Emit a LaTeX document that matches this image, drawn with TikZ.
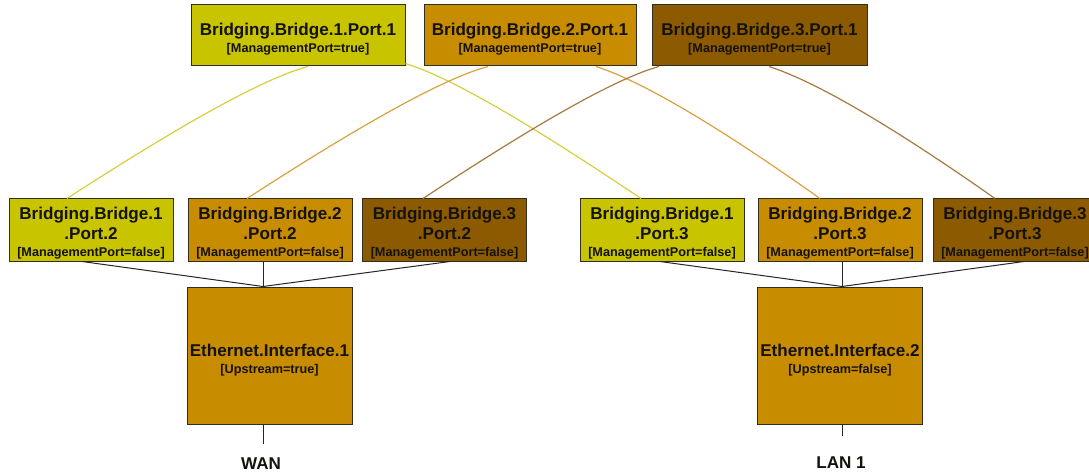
\documentclass[tikz,border=0pt]{standalone}
\usepackage{fontspec}
\setmainfont{Liberation Sans}
\usetikzlibrary{calc}
\definecolor{cyel}{RGB}{200,196,0}
\definecolor{corg}{RGB}{200,140,0}
\definecolor{cbrn}{RGB}{140,90,0}
\definecolor{lyel}{RGB}{214,208,64}
\definecolor{lorg}{RGB}{216,162,64}
\definecolor{lbrn}{RGB}{168,122,64}
\definecolor{bord}{RGB}{50,45,30}
\definecolor{txt}{RGB}{20,18,10}
\newcommand\ttlf{\fontsize{12.8}{15}\selectfont\bfseries}
\newcommand\subf{\fontsize{9.5}{15}\selectfont\bfseries}
\newcommand\tstrut{\rule{0pt}{14.5pt}}
\begin{document}
\begin{tikzpicture}[x=0.75pt,y=-0.75pt,
  box/.style={draw=bord,line width=0.75pt,inner sep=0pt,align=center,text=txt,font=\ttlf},
  topbox/.style={box,minimum height=61*0.75pt},
  midbox/.style={box,minimum width=164*0.75pt,minimum height=62*0.75pt},
  ethbox/.style={box,fill=corg,minimum width=165*0.75pt,minimum height=137*0.75pt},
  arcline/.style={line width=0.9pt},
  link/.style={draw=black!85,line width=0.75pt},
  lbl/.style={font=\ttlf,inner sep=0pt,text=txt}]
\useasboundingbox (0,0) rectangle (1089,474);
\fill[white] (0,0) rectangle (1089,474);
% top row
\node[topbox,fill=cyel,minimum width=214*0.75pt] (t1) at (298,35.5) {\tstrut Bridging.Bridge.1.Port.1\\[-2.25pt]\subf{[ManagementPort=true]}};
\node[topbox,fill=corg,minimum width=212*0.75pt] (t2) at (530,35.5) {\tstrut Bridging.Bridge.2.Port.1\\[-2.25pt]\subf{[ManagementPort=true]}};
\node[topbox,fill=cbrn,minimum width=215*0.75pt] (t3) at (759.5,35.5) {\tstrut Bridging.Bridge.3.Port.1\\[-2.25pt]\subf{[ManagementPort=true]}};
% middle row
\node[midbox,fill=cyel] (m12) at (91,230) {\tstrut Bridging.Bridge.1\\.Port.2\\[-2.25pt]\subf{[ManagementPort=false]}};
\node[midbox,fill=corg] (m22) at (270,230) {\tstrut Bridging.Bridge.2\\.Port.2\\[-2.25pt]\subf{[ManagementPort=false]}};
\node[midbox,fill=cbrn] (m32) at (444.5,230) {\tstrut Bridging.Bridge.3\\.Port.2\\[-2.25pt]\subf{[ManagementPort=false]}};
\node[midbox,fill=cyel] (m13) at (662,230) {\tstrut Bridging.Bridge.1\\.Port.3\\[-2.25pt]\subf{[ManagementPort=false]}};
\node[midbox,fill=corg] (m23) at (840,230) {\tstrut Bridging.Bridge.2\\.Port.3\\[-2.25pt]\subf{[ManagementPort=false]}};
\node[midbox,fill=cbrn] (m33) at (1015,230) {\tstrut Bridging.Bridge.3\\.Port.3\\[-2.25pt]\subf{[ManagementPort=false]}};
% ethernet
\node[ethbox] (e1) at (269.5,355.5) {\rule{0pt}{16pt}Ethernet.Interface.1\\[-2.25pt]\subf{[Upstream=true]}};
\node[ethbox] (e2) at (840,355.5) {\rule{0pt}{16pt}Ethernet.Interface.2\\[-2.25pt]\subf{[Upstream=false]}};
% labels
\node[lbl] (wan) at (261,464) {WAN};
\node[lbl] (lan) at (841,463) {LAN 1};
% junctions
\coordinate (j1) at ($(e1.north)+(-6.5,0)$);
\coordinate (j2) at ($(e2.north)+(2,0)$);
\coordinate (w1) at ($(e1.south)+(-6.5,19)$);
\coordinate (w2) at ($(e2.south)+(2,11)$);
% arcs
\draw[arcline,draw=lyel] ($(m12.north)+(-24,0)$) .. controls (185,122) and (265,78) .. ($(t1.south)+(10,0)$);
\draw[arcline,draw=lyel] ($(t1.south east)+(0,-3)$) .. controls (452,78) and (530,124) .. ($(m13.north)+(-21,0)$);
\draw[arcline,draw=lorg] ($(m22.north)+(-23,0)$) .. controls (365,122) and (445,78) .. ($(t2.south)+(-42,0)$);
\draw[arcline,draw=lorg] ($(t2.south)+(66,0)$) .. controls (641,81) and (715,124) .. ($(m23.north)+(-20,0)$);
\draw[arcline,draw=lbrn] ($(m32.north)+(-21.5,0)$) .. controls (539,122) and (617,78) .. ($(t3.south)+(-100.5,0)$);
\draw[arcline,draw=lbrn] ($(t3.south)+(9.5,0)$) .. controls (814,81) and (889,124) .. ($(m33.north)+(-20,0)$);
% links
\draw[link] ($(m12.south)+(-9,0)$) -- (j1);
\draw[link] (m22.south -| j1) -- (j1);
\draw[link] ($(m32.south)+(5.5,0)$) -- (j1);
\draw[link] ($(m13.south)+(-2,0)$) -- (j2);
\draw[link] (m23.south -| j2) -- (j2);
\draw[link] ($(m33.south)+(9,0)$) -- (j2);
\draw[link] (j1 |- e1.south) -- (w1);
\draw[link] (j2 |- e2.south) -- (w2);
\end{tikzpicture}
\end{document}
